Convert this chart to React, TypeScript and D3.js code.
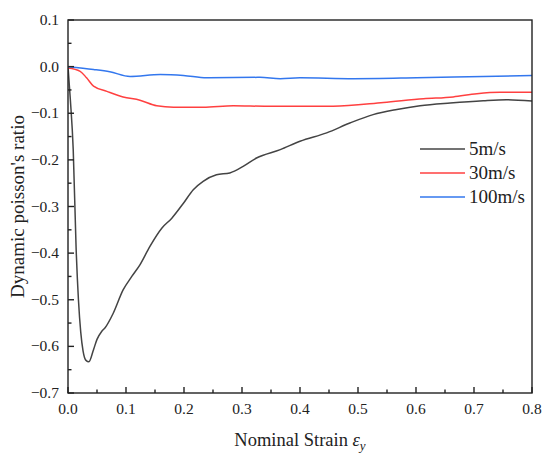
import React from 'react';
import * as d3 from 'd3';

// values
const strain5 = [0, 0.004, 0.009, 0.014, 0.018, 0.022, 0.026, 0.031, 0.036, 0.044, 0.05, 0.058, 0.064, 0.078, 0.095, 0.11, 0.124, 0.141, 0.162, 0.179, 0.199, 0.216, 0.233, 0.256, 0.279, 0.302, 0.325, 0.366, 0.4, 0.446, 0.486, 0.526, 0.567, 0.607, 0.659, 0.716, 0.756, 0.8];
const ratio5 = [0, -0.07, -0.178, -0.39, -0.5, -0.57, -0.61, -0.63, -0.633, -0.607, -0.585, -0.568, -0.56, -0.529, -0.479, -0.45, -0.425, -0.386, -0.346, -0.325, -0.293, -0.264, -0.246, -0.232, -0.228, -0.214, -0.196, -0.178, -0.16, -0.142, -0.121, -0.103, -0.092, -0.084, -0.078, -0.073, -0.071, -0.074];

const strain30 = [0, 0.021, 0.032, 0.044, 0.067, 0.095, 0.124, 0.153, 0.182, 0.233, 0.285, 0.343, 0.4, 0.457, 0.544, 0.613, 0.664, 0.705, 0.745, 0.8];
const ratio30 = [-0.003, -0.01, -0.024, -0.042, -0.053, -0.065, -0.072, -0.084, -0.087, -0.087, -0.084, -0.085, -0.085, -0.085, -0.077, -0.069, -0.065, -0.058, -0.055, -0.055];

const strain100 = [0, 0.044, 0.072, 0.107, 0.159, 0.199, 0.239, 0.331, 0.366, 0.4, 0.492, 0.601, 0.716, 0.8];
const ratio100 = [0, -0.006, -0.011, -0.021, -0.017, -0.019, -0.024, -0.023, -0.026, -0.024, -0.026, -0.024, -0.021, -0.019];

const seriesNames = ['5m/s', '30m/s', '100m/s'];
const seriesColors = ['#444444', '#ff4040', '#3377ee'];

const xTicks = [0, 0.1, 0.2, 0.3, 0.4, 0.5, 0.6, 0.7, 0.8];
const yTicks = [0.1, 0, -0.1, -0.2, -0.3, -0.4, -0.5, -0.6, -0.7];

const W = 550;
const H = 461;
const left = 68;
const right = 532;
const top = 20;
const bottom = 393;
const font = '"Liberation Serif", "Times New Roman", serif';

export default function App() {
  const x = d3.scaleLinear().domain([0, 0.8]).range([left, right]);
  const y = d3.scaleLinear().domain([-0.7, 0.1]).range([bottom, top]);

  const line = d3
    .line<[number, number]>()
    .x(d => x(d[0]))
    .y(d => y(d[1]))
    .curve(d3.curveMonotoneX);

  const series = [
    strain5.map((s, i) => [s, ratio5[i]] as [number, number]),
    strain30.map((s, i) => [s, ratio30[i]] as [number, number]),
    strain100.map((s, i) => [s, ratio100[i]] as [number, number]),
  ];

  const xMinor = d3.range(0.05, 0.8, 0.1);
  const yMinor = d3.range(-0.65, 0.1, 0.1);
  const fmt = (v: number) => (v < 0 ? '\u2212' : '') + Math.abs(v).toFixed(1);

  return (
    <svg width={W} height={H} style={{ display: 'block', position: 'absolute', left: 0, top: 0 }}>
      <rect x={0} y={0} width={W} height={H} fill="#fff" />
      <defs>
        <clipPath id="plot">
          <rect x={left} y={top} width={right - left} height={bottom - top} />
        </clipPath>
      </defs>
      <g clipPath="url(#plot)">
        {series.map((pts, i) => (
          <path key={i} d={line(pts) || ''} fill="none" stroke={seriesColors[i]} strokeWidth={1.5} />
        ))}
      </g>

      {/* frame */}
      <rect x={left} y={top} width={right - left} height={bottom - top} fill="none" stroke="#222" strokeWidth={1.4} />

      {/* x ticks */}
      {xTicks.map(t => (
        <g key={'x' + t}>
          <line x1={x(t)} x2={x(t)} y1={bottom} y2={bottom - 6} stroke="#222" strokeWidth={1.4} />
          <text x={x(t)} y={bottom + 21} textAnchor="middle" fontFamily={font} fontSize={15.5} fill="#222">
            {t.toFixed(1)}
          </text>
        </g>
      ))}
      {xMinor.map(t => (
        <line key={'xm' + t} x1={x(t)} x2={x(t)} y1={bottom} y2={bottom - 3.5} stroke="#222" strokeWidth={1.4} />
      ))}

      {/* y ticks */}
      {yTicks.map(t => (
        <g key={'y' + t}>
          <line x1={left} x2={left + 6} y1={y(t)} y2={y(t)} stroke="#222" strokeWidth={1.4} />
          <text x={left - 9} y={y(t) + 5} textAnchor="end" fontFamily={font} fontSize={15.5} fill="#222">
            {fmt(t)}
          </text>
        </g>
      ))}
      {yMinor.map(t => (
        <line key={'ym' + t} x1={left} x2={left + 3.5} y1={y(t)} y2={y(t)} stroke="#222" strokeWidth={1.4} />
      ))}

      {/* axis titles */}
      <text x={300} y={446} textAnchor="middle" fontFamily={font} fontSize={18.5} fill="#222">
        Nominal Strain <tspan fontStyle="italic">ε</tspan>
        <tspan fontStyle="italic" fontSize={13} dy={4}>y</tspan>
      </text>
      <text
        transform={`translate(24, ${(top + bottom) / 2}) rotate(-90)`}
        textAnchor="middle"
        fontFamily={font}
        fontSize={19}
        fill="#222"
      >
        Dynamic poisson's ratio
      </text>

      {/* legend */}
      {seriesNames.map((name, i) => (
        <g key={name} transform={`translate(420, ${149 + i * 24})`}>
          <line x1={0} x2={45} y1={0} y2={0} stroke={seriesColors[i]} strokeWidth={1.5} />
          <text x={49} y={6} fontFamily={font} fontSize={19} fill="#222">
            {name}
          </text>
        </g>
      ))}
    </svg>
  );
}
